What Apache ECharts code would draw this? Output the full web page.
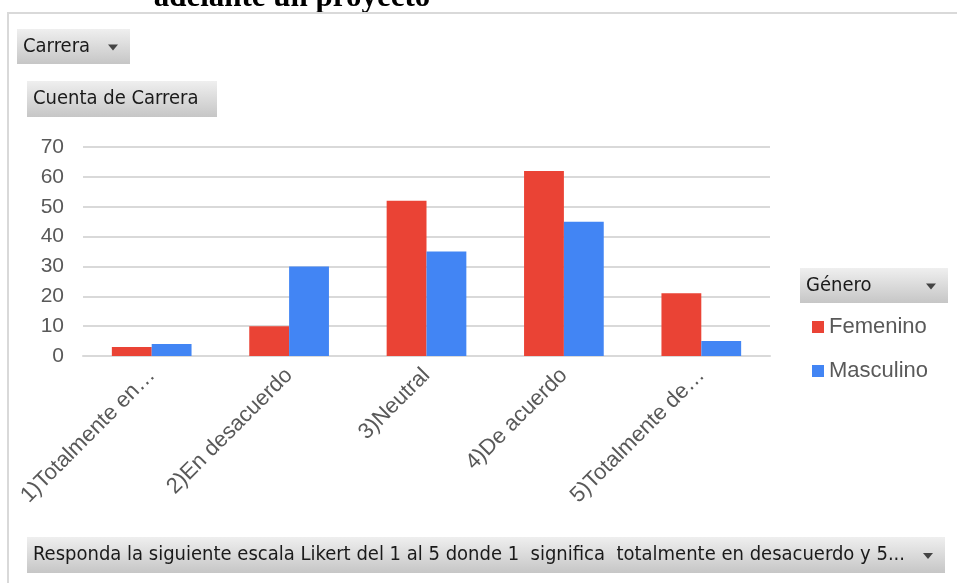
<!DOCTYPE html>
<html>
<head>
<meta charset="utf-8">
<script src="https://cdn.jsdelivr.net/npm/echarts@6/dist/echarts.min.js"></script>
<style>
  html, body { margin: 0; padding: 0; background: #fff; }
  #main { width: 957px; height: 583px; }
</style>
</head>
<body>
<div id="main"></div>
<script>
// categorías de la escala Likert (como se ven en el eje)
var categorias = ['1)Totalmente en…', '2)En desacuerdo', '3)Neutral', '4)De acuerdo', '5)Totalmente de…'];
var femenino = [3, 10, 52, 62, 21];
var masculino = [4, 30, 35, 45, 5];
var ticksY = [0, 10, 20, 30, 40, 50, 60, 70];

var btnFill = new echarts.graphic.LinearGradient(0, 0, 0, 1, [
    { offset: 0, color: '#efefef' },
    { offset: 1, color: '#c6c6c6' }
]);
var btnFont = '20px "DejaVu Sans Condensed", "DejaVu Sans", sans-serif';
var fuente = 'Arial, "Liberation Sans", sans-serif';

// botón tipo tabla dinámica
function boton(x, y, w, h, texto, flecha) {
    var items = [
        { type: 'rect', shape: { x: x, y: y, width: w, height: h }, style: { fill: btnFill } },
        { type: 'text', style: { x: x + 6, y: y + h / 2, text: texto, font: btnFont, fill: '#1a1a1a', textVerticalAlign: 'middle' } }
    ];
    if (flecha) {
        var cx = x + w - 17, cy = y + h / 2 + 1;
        items.push({ type: 'polygon', shape: { points: [[cx - 5, cy - 3], [cx + 5, cy - 3], [cx, cy + 3]] }, style: { fill: '#444' } });
    }
    return items;
}

var myChart = echarts.init(document.getElementById('main'));

var option = {
    animation: false,
    grid: { left: 83, right: 187, top: 147, bottom: 227 },
    legend: {
        orient: 'vertical',
        left: 812,
        top: 316,
        padding: 0,
        itemGap: 22,
        icon: 'rect',
        itemWidth: 12,
        itemHeight: 12,
        textStyle: { fontSize: 22, color: '#595959', fontFamily: fuente },
        data: ['Femenino', 'Masculino']
    },
    xAxis: {
        type: 'category',
        data: categorias,
        axisLine: { lineStyle: { color: '#d9d9d9', width: 2 } },
        axisTick: { show: false },
        axisLabel: {
            rotate: 45,
            interval: 0,
            margin: 16,
            fontSize: 22,
            color: '#595959',
            fontFamily: fuente
        }
    },
    yAxis: {
        type: 'value',
        min: ticksY[0],
        max: ticksY[ticksY.length - 1],
        interval: 10,
        axisLine: { show: false },
        axisTick: { show: false },
        axisLabel: { fontSize: 21, color: '#595959', margin: 19, fontFamily: fuente },
        splitLine: { lineStyle: { color: '#d9d9d9', width: 2 } }
    },
    series: [
        {
            name: 'Femenino',
            type: 'bar',
            data: femenino,
            barGap: '0%',
            barCategoryGap: '42%',
            itemStyle: { color: '#ea4335' }
        },
        {
            name: 'Masculino',
            type: 'bar',
            data: masculino,
            barGap: '0%',
            barCategoryGap: '42%',
            itemStyle: { color: '#4285f4' }
        }
    ],
    graphic: [].concat(
        [
            { type: 'text', style: { x: 292, y: 13, text: 'adelante un proyecto', font: 'bold 31px "Liberation Serif", "Times New Roman", serif', fill: '#000', textAlign: 'center', textVerticalAlign: 'bottom' } },
            { type: 'polyline', shape: { points: [[8, 583], [8, 13], [957, 13]] }, style: { stroke: '#d9d9d9', lineWidth: 2, fill: null } }
        ],
        boton(17, 29, 113, 35, 'Carrera', true),
        boton(27, 81, 190, 36, 'Cuenta de Carrera', false),
        boton(800, 268, 148, 35, 'Género', true),
        boton(27, 537, 918, 36, 'Responda la siguiente escala Likert del 1 al 5 donde 1  significa  totalmente en desacuerdo y 5...', true)
    )
};

myChart.setOption(option);
</script>
</body>
</html>
